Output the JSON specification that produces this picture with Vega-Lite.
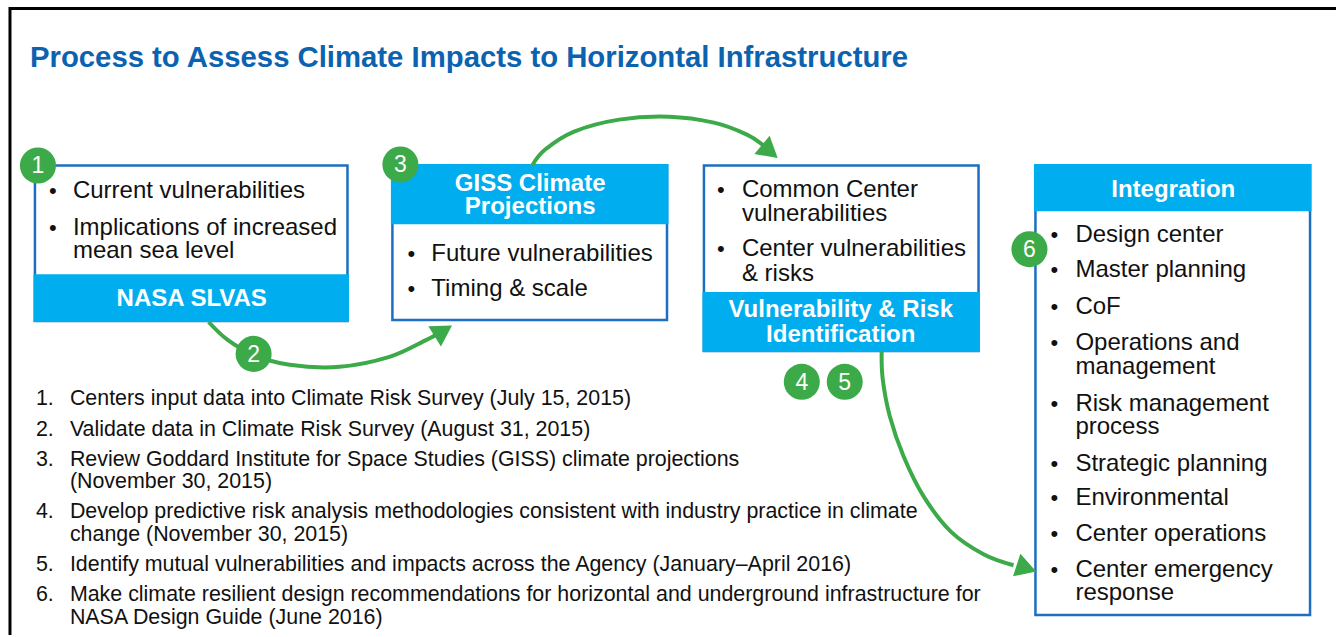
{
  "$schema": "https://vega.github.io/schema/vega-lite/v6.json",
  "width": 1338,
  "height": 637,
  "autosize": {"type": "fit", "contains": "padding"},
  "padding": 0,
  "background": "white",
  "config": {"view": {"stroke": null}},
  "datasets": {
    "frame": [
      {"x": 9, "y": 8.5, "x2": 1338, "y2": 8.5},
      {"x": 10, "y": 7, "x2": 10, "y2": 637}
    ],
    "boxes": [
      {"id": "slvas", "x": 35, "x2": 348, "y": 166, "y2": 322},
      {"id": "giss", "x": 393, "x2": 668, "y": 166, "y2": 321},
      {"id": "vr", "x": 705, "x2": 980, "y": 166, "y2": 352},
      {"id": "int", "x": 1037, "x2": 1312, "y": 166, "y2": 617}
    ],
    "bands": [
      {"id": "slvas", "x": 33.5, "x2": 349.5, "y": 275, "y2": 323},
      {"id": "giss", "x": 391.5, "x2": 669.5, "y": 164.5, "y2": 225},
      {"id": "vr", "x": 703.5, "x2": 981.5, "y": 293, "y2": 353},
      {"id": "int", "x": 1035.5, "x2": 1313.5, "y": 164.5, "y2": 212}
    ],
    "curves": [
      {"arrow": "a", "seq": 1, "x": 209, "y": 323},
      {"arrow": "a", "seq": 2, "x": 228, "y": 341},
      {"arrow": "a", "seq": 3, "x": 254, "y": 356},
      {"arrow": "a", "seq": 4, "x": 290, "y": 366},
      {"arrow": "a", "seq": 5, "x": 340, "y": 368},
      {"arrow": "a", "seq": 6, "x": 390, "y": 358},
      {"arrow": "a", "seq": 7, "x": 425, "y": 342},
      {"arrow": "a", "seq": 8, "x": 438, "y": 335},
      {"arrow": "b", "seq": 1, "x": 533, "y": 166},
      {"arrow": "b", "seq": 2, "x": 546, "y": 150},
      {"arrow": "b", "seq": 3, "x": 575, "y": 132},
      {"arrow": "b", "seq": 4, "x": 620, "y": 120},
      {"arrow": "b", "seq": 5, "x": 670, "y": 117},
      {"arrow": "b", "seq": 6, "x": 715, "y": 123},
      {"arrow": "b", "seq": 7, "x": 748, "y": 135},
      {"arrow": "b", "seq": 8, "x": 766, "y": 147},
      {"arrow": "c", "seq": 1, "x": 883, "y": 352},
      {"arrow": "c", "seq": 2, "x": 884, "y": 380},
      {"arrow": "c", "seq": 3, "x": 891, "y": 417},
      {"arrow": "c", "seq": 4, "x": 905, "y": 458},
      {"arrow": "c", "seq": 5, "x": 925, "y": 498},
      {"arrow": "c", "seq": 6, "x": 952, "y": 533},
      {"arrow": "c", "seq": 7, "x": 985, "y": 556},
      {"arrow": "c", "seq": 8, "x": 1015, "y": 567}
    ],
    "heads": [
      {"arrow": "a", "x": 444, "y": 332, "dir": -32},
      {"arrow": "b", "x": 771, "y": 152, "dir": 40},
      {"arrow": "c", "x": 1028, "y": 570, "dir": 18}
    ],
    "badges": [
      {"n": "1", "x": 38, "y": 166},
      {"n": "2", "x": 254, "y": 355},
      {"n": "3", "x": 401, "y": 165},
      {"n": "4", "x": 803, "y": 383},
      {"n": "5", "x": 846, "y": 383},
      {"n": "6", "x": 1031, "y": 250}
    ],
    "texts": [
      {"role": "title", "x": 30, "y": 67, "t": "Process to Assess Climate Impacts to Horizontal Infrastructure"},

      {"role": "bullet", "x": 53, "y": 199, "t": "•"},
      {"role": "item", "x": 73, "y": 199, "t": "Current vulnerabilities"},
      {"role": "bullet", "x": 53, "y": 236, "t": "•"},
      {"role": "item", "x": 73, "y": 236, "t": "Implications of increased"},
      {"role": "item", "x": 73, "y": 259, "t": "mean sea level"},
      {"role": "head", "x": 192, "y": 307, "t": "NASA SLVAS"},

      {"role": "head", "x": 531, "y": 192, "t": "GISS Climate"},
      {"role": "head", "x": 531, "y": 215, "t": "Projections"},
      {"role": "bullet", "x": 412, "y": 262, "t": "•"},
      {"role": "item", "x": 432, "y": 262, "t": "Future vulnerabilities"},
      {"role": "bullet", "x": 412, "y": 297, "t": "•"},
      {"role": "item", "x": 432, "y": 297, "t": "Timing & scale"},

      {"role": "bullet", "x": 722, "y": 198, "t": "•"},
      {"role": "item", "x": 743, "y": 198, "t": "Common Center"},
      {"role": "item", "x": 743, "y": 222, "t": "vulnerabilities"},
      {"role": "bullet", "x": 722, "y": 257, "t": "•"},
      {"role": "item", "x": 743, "y": 257, "t": "Center vulnerabilities"},
      {"role": "item", "x": 743, "y": 282, "t": "& risks"},
      {"role": "head", "x": 842, "y": 318, "t": "Vulnerability & Risk"},
      {"role": "head", "x": 842, "y": 343, "t": "Identification"},

      {"role": "head", "x": 1175, "y": 198, "t": "Integration"},
      {"role": "bullet", "x": 1056, "y": 243, "t": "•"},
      {"role": "item", "x": 1077, "y": 243, "t": "Design center"},
      {"role": "bullet", "x": 1056, "y": 278, "t": "•"},
      {"role": "item", "x": 1077, "y": 278, "t": "Master planning"},
      {"role": "bullet", "x": 1056, "y": 315, "t": "•"},
      {"role": "item", "x": 1077, "y": 315, "t": "CoF"},
      {"role": "bullet", "x": 1056, "y": 351, "t": "•"},
      {"role": "item", "x": 1077, "y": 351, "t": "Operations and"},
      {"role": "item", "x": 1077, "y": 375, "t": "management"},
      {"role": "bullet", "x": 1056, "y": 412, "t": "•"},
      {"role": "item", "x": 1077, "y": 412, "t": "Risk management"},
      {"role": "item", "x": 1077, "y": 435, "t": "process"},
      {"role": "bullet", "x": 1056, "y": 472, "t": "•"},
      {"role": "item", "x": 1077, "y": 472, "t": "Strategic planning"},
      {"role": "bullet", "x": 1056, "y": 507, "t": "•"},
      {"role": "item", "x": 1077, "y": 507, "t": "Environmental"},
      {"role": "bullet", "x": 1056, "y": 543, "t": "•"},
      {"role": "item", "x": 1077, "y": 543, "t": "Center operations"},
      {"role": "bullet", "x": 1056, "y": 579, "t": "•"},
      {"role": "item", "x": 1077, "y": 579, "t": "Center emergency"},
      {"role": "item", "x": 1077, "y": 602, "t": "response"},

      {"role": "list", "x": 36, "y": 406, "t": "1."},
      {"role": "list", "x": 70, "y": 406, "t": "Centers input data into Climate Risk Survey (July 15, 2015)"},
      {"role": "list", "x": 36, "y": 437, "t": "2."},
      {"role": "list", "x": 70, "y": 437, "t": "Validate data in Climate Risk Survey (August 31, 2015)"},
      {"role": "list", "x": 36, "y": 467, "t": "3."},
      {"role": "list", "x": 70, "y": 467, "t": "Review Goddard Institute for Space Studies (GISS) climate projections"},
      {"role": "list", "x": 70, "y": 490, "t": "(November 30, 2015)"},
      {"role": "list", "x": 36, "y": 520, "t": "4."},
      {"role": "list", "x": 70, "y": 520, "t": "Develop predictive risk analysis methodologies consistent with industry practice in climate"},
      {"role": "list", "x": 70, "y": 543, "t": "change (November 30, 2015)"},
      {"role": "list", "x": 36, "y": 573, "t": "5."},
      {"role": "list", "x": 70, "y": 573, "t": "Identify mutual vulnerabilities and impacts across the Agency (January–April 2016)"},
      {"role": "list", "x": 36, "y": 603, "t": "6."},
      {"role": "list", "x": 70, "y": 603, "t": "Make climate resilient design recommendations for horizontal and underground infrastructure for"},
      {"role": "list", "x": 70, "y": 626, "t": "NASA Design Guide (June 2016)"}
    ]
  },
  "layer": [
    {
      "data": {"name": "frame"},
      "mark": {"type": "rule", "color": "#000000", "strokeWidth": 3},
      "encoding": {
        "x": {"field": "x", "type": "quantitative", "scale": {"domain": [0, 1338], "nice": false, "zero": false}, "axis": null},
        "y": {"field": "y", "type": "quantitative", "scale": {"domain": [0, 637], "nice": false, "zero": false, "reverse": true}, "axis": null},
        "x2": {"field": "x2"},
        "y2": {"field": "y2"}
      }
    },
    {
      "data": {"name": "boxes"},
      "mark": {"type": "rect", "fill": "#ffffff", "stroke": "#1C6FC1", "strokeWidth": 2.5},
      "encoding": {
        "x": {"field": "x", "type": "quantitative"},
        "x2": {"field": "x2"},
        "y": {"field": "y", "type": "quantitative"},
        "y2": {"field": "y2"}
      }
    },
    {
      "data": {"name": "bands"},
      "mark": {"type": "rect", "fill": "#00AEEF"},
      "encoding": {
        "x": {"field": "x", "type": "quantitative"},
        "x2": {"field": "x2"},
        "y": {"field": "y", "type": "quantitative"},
        "y2": {"field": "y2"}
      }
    },
    {
      "data": {"name": "curves"},
      "mark": {"type": "line", "color": "#3DAA4A", "strokeWidth": 4, "interpolate": "cardinal"},
      "encoding": {
        "x": {"field": "x", "type": "quantitative"},
        "y": {"field": "y", "type": "quantitative"},
        "detail": {"field": "arrow"},
        "order": {"field": "seq", "type": "quantitative"}
      }
    },
    {
      "data": {"name": "heads"},
      "mark": {"type": "point", "shape": "triangle-right", "filled": true, "color": "#3DAA4A", "opacity": 1, "size": 560},
      "encoding": {
        "x": {"field": "x", "type": "quantitative"},
        "y": {"field": "y", "type": "quantitative"},
        "angle": {"field": "dir", "type": "quantitative", "scale": null}
      }
    },
    {
      "data": {"name": "badges"},
      "mark": {"type": "point", "shape": "circle", "filled": true, "color": "#3DAA4A", "opacity": 1, "size": 1300},
      "encoding": {
        "x": {"field": "x", "type": "quantitative"},
        "y": {"field": "y", "type": "quantitative"}
      }
    },
    {
      "data": {"name": "badges"},
      "mark": {"type": "text", "color": "#ffffff", "font": "Liberation Sans", "fontSize": 23, "align": "center", "baseline": "middle", "dy": 1},
      "encoding": {
        "x": {"field": "x", "type": "quantitative"},
        "y": {"field": "y", "type": "quantitative"},
        "text": {"field": "n"}
      }
    },
    {
      "data": {"name": "texts"},
      "transform": [{"filter": "datum.role === 'title'"}],
      "mark": {"type": "text", "color": "#0B63B0", "font": "Liberation Sans", "fontWeight": "bold", "fontSize": 29.3, "align": "left", "baseline": "alphabetic"},
      "encoding": {
        "x": {"field": "x", "type": "quantitative"},
        "y": {"field": "y", "type": "quantitative"},
        "text": {"field": "t"}
      }
    },
    {
      "data": {"name": "texts"},
      "transform": [{"filter": "datum.role === 'item'"}],
      "mark": {"type": "text", "color": "#111111", "font": "Liberation Sans", "fontSize": 24, "align": "left", "baseline": "alphabetic"},
      "encoding": {
        "x": {"field": "x", "type": "quantitative"},
        "y": {"field": "y", "type": "quantitative"},
        "text": {"field": "t"}
      }
    },
    {
      "data": {"name": "texts"},
      "transform": [{"filter": "datum.role === 'bullet'"}],
      "mark": {"type": "text", "color": "#111111", "font": "Liberation Sans", "fontSize": 22, "align": "center", "baseline": "alphabetic"},
      "encoding": {
        "x": {"field": "x", "type": "quantitative"},
        "y": {"field": "y", "type": "quantitative"},
        "text": {"field": "t"}
      }
    },
    {
      "data": {"name": "texts"},
      "transform": [{"filter": "datum.role === 'head'"}],
      "mark": {"type": "text", "color": "#ffffff", "font": "Liberation Sans", "fontWeight": "bold", "fontSize": 24, "align": "center", "baseline": "alphabetic"},
      "encoding": {
        "x": {"field": "x", "type": "quantitative"},
        "y": {"field": "y", "type": "quantitative"},
        "text": {"field": "t"}
      }
    },
    {
      "data": {"name": "texts"},
      "transform": [{"filter": "datum.role === 'list'"}],
      "mark": {"type": "text", "color": "#111111", "font": "Liberation Sans", "fontSize": 21.4, "align": "left", "baseline": "alphabetic"},
      "encoding": {
        "x": {"field": "x", "type": "quantitative"},
        "y": {"field": "y", "type": "quantitative"},
        "text": {"field": "t"}
      }
    }
  ]
}
